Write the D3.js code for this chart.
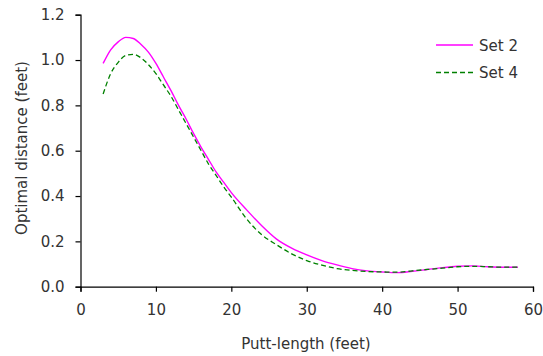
<!DOCTYPE html>
<html>
<head>
<meta charset="utf-8">
<script src="https://cdn.jsdelivr.net/npm/d3@7"></script>
<style>
  body { margin: 0; background: #fff; }
  text { font-family: "DejaVu Sans", Verdana, sans-serif; fill: #333; }
</style>
</head>
<body>
<svg id="chart" width="543" height="356"></svg>
<script>
var puttLength = [3, 4, 5, 6, 7, 8, 9, 10, 11, 12, 13, 14, 15, 16, 17, 18, 19, 20,
    22, 24, 26, 28, 30, 32, 34, 36, 38, 40, 42, 44, 46, 48, 50, 52, 54, 56, 58];

var set2 = [0.985, 1.045, 1.08, 1.10, 1.095, 1.07, 1.035, 0.985, 0.925, 0.865, 0.80, 0.74,
    0.675, 0.615, 0.56, 0.505, 0.46, 0.415, 0.34, 0.27, 0.21, 0.17, 0.14, 0.115, 0.096,
    0.08, 0.07, 0.065, 0.062, 0.068, 0.076, 0.084, 0.09, 0.092, 0.088, 0.086, 0.086];

var set4 = [0.85, 0.94, 0.99, 1.02, 1.025, 1.01, 0.98, 0.94, 0.89, 0.84, 0.78, 0.72,
    0.66, 0.60, 0.54, 0.49, 0.44, 0.395, 0.30, 0.23, 0.185, 0.145, 0.115, 0.095, 0.08,
    0.072, 0.067, 0.065, 0.064, 0.07, 0.076, 0.082, 0.088, 0.09, 0.088, 0.086, 0.086];

var xTicks = [0, 10, 20, 30, 40, 50, 60];
var yTicks = [0, 0.2, 0.4, 0.6, 0.8, 1.0, 1.2];

var series = [
    { name: "Set 2", values: set2, color: "#ff00ff", dash: null, width: 1.4 },
    { name: "Set 4", values: set4, color: "#008000", dash: "5,3", width: 1.3 }
];

var svg = d3.select("#chart");

var x = d3.scaleLinear().domain([0, 60]).range([80.5, 533]);
var y = d3.scaleLinear().domain([0, 1.2]).range([286.7, 14.7]);

var xAxis = svg.append("g")
    .attr("transform", "translate(0," + y(0) + ")")
    .call(d3.axisBottom(x).tickValues(xTicks).tickSize(5).tickPadding(13)
        .tickFormat(d3.format("d")));

var yAxis = svg.append("g")
    .attr("transform", "translate(" + x(0) + ",0)")
    .call(d3.axisLeft(y).tickValues(yTicks).tickSize(5).tickPadding(11)
        .tickFormat(d3.format(".1f")));

[xAxis, yAxis].forEach(function(a) {
    a.select(".domain").attr("stroke", "#000").attr("stroke-width", 1.2);
    a.selectAll(".tick line").attr("stroke", "#000").attr("stroke-width", 1.2);
    a.selectAll(".tick text").style("font-size", "15px")
        .style("font-family", "'DejaVu Sans', Verdana, sans-serif").attr("fill", "#333");
});

var line = d3.line()
    .x(function(d) { return x(d[0]); })
    .y(function(d) { return y(d[1]); })
    .curve(d3.curveMonotoneX);

series.forEach(function(s) {
    svg.append("path")
        .datum(puttLength.map(function(p, i) { return [p, s.values[i]]; }))
        .attr("fill", "none")
        .attr("stroke", s.color)
        .attr("stroke-width", s.width)
        .attr("stroke-dasharray", s.dash)
        .attr("d", line);
});

// legend
var legend = svg.append("g").attr("transform", "translate(436,45)");
series.forEach(function(s, i) {
    var g = legend.append("g").attr("transform", "translate(0," + (i * 27.5) + ")");
    g.append("line")
        .attr("x1", 0).attr("x2", 37)
        .attr("stroke", s.color)
        .attr("stroke-width", s.width)
        .attr("stroke-dasharray", s.dash);
    g.append("text")
        .attr("x", 43).attr("y", 5.5)
        .style("font-size", "15px")
        .text(s.name);
});

svg.append("text")
    .attr("x", 306).attr("y", 349)
    .attr("text-anchor", "middle")
    .style("font-size", "15px")
    .text("Putt-length (feet)");

svg.append("text")
    .attr("transform", "translate(27,148) rotate(-90)")
    .attr("text-anchor", "middle")
    .style("font-size", "15px")
    .text("Optimal distance (feet)");
</script>
</body>
</html>
